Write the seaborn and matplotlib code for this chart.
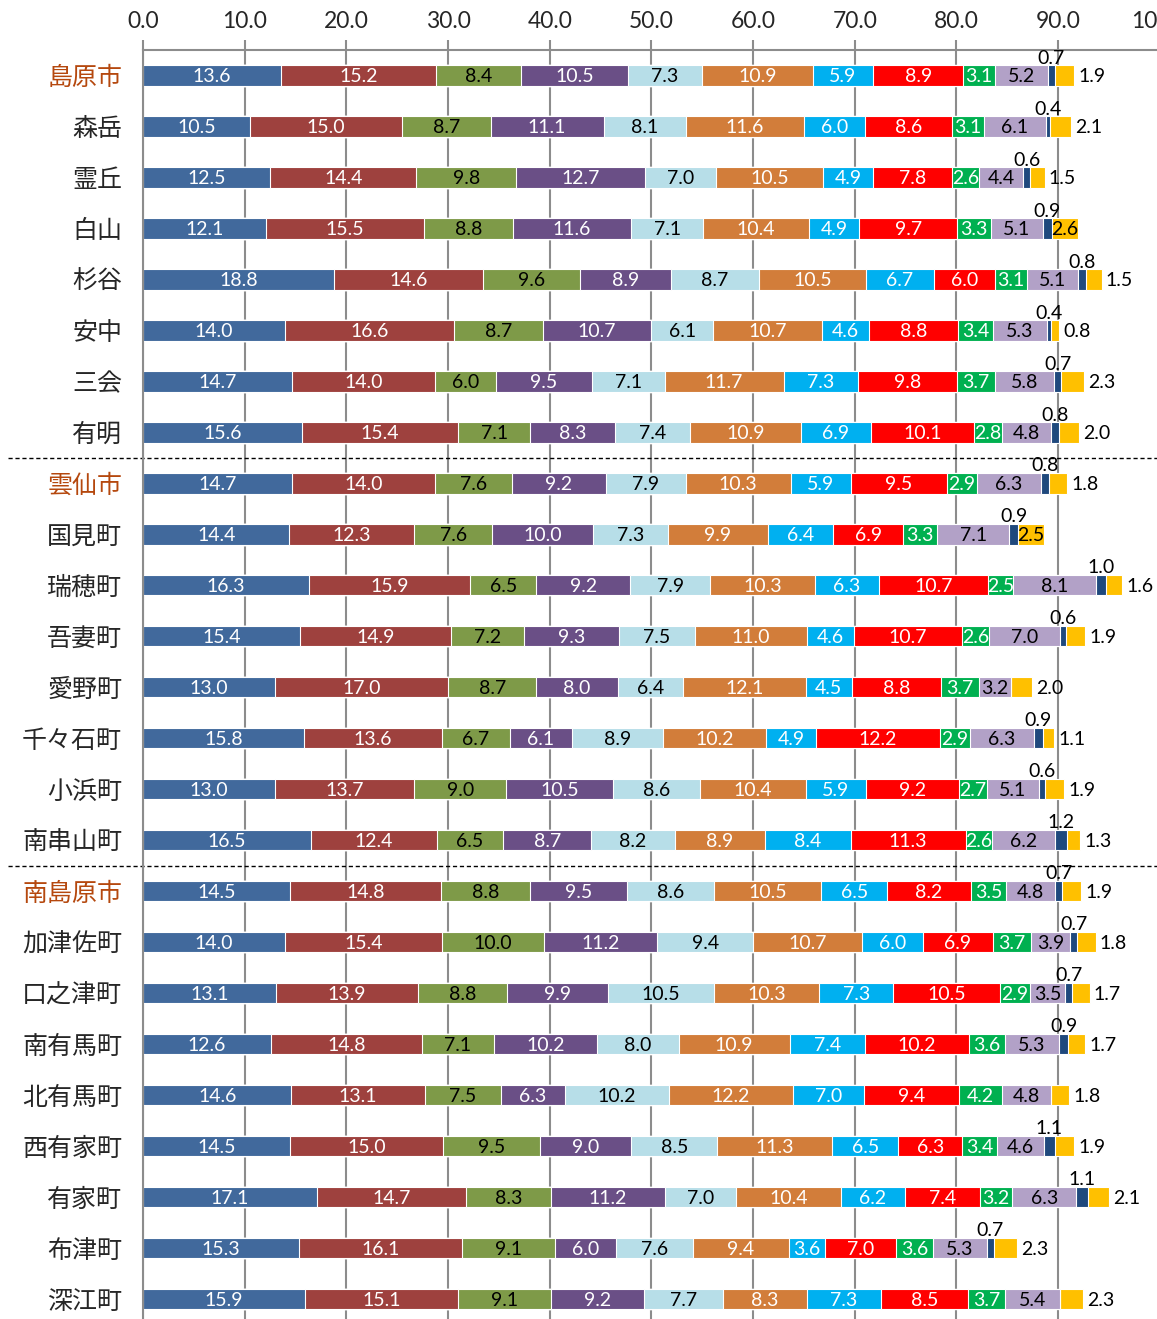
import numpy as np
import pandas as pd
import matplotlib.pyplot as plt
import seaborn as sns

# 地区名（上から順）
names = ['島原市', '森岳', '霊丘', '白山', '杉谷', '安中', '三会', '有明',
         '雲仙市', '国見町', '瑞穂町', '吾妻町', '愛野町', '千々石町', '小浜町', '南串山町',
         '南島原市', '加津佐町', '口之津町', '南有馬町', '北有馬町', '西有家町', '有家町', '布津町', '深江町']
cities = ['島原市', '雲仙市', '南島原市']

# 各系列の値（%）
s01 = [13.6, 10.5, 12.5, 12.1, 18.8, 14.0, 14.7, 15.6, 14.7, 14.4, 16.3, 15.4, 13.0, 15.8, 13.0, 16.5, 14.5, 14.0, 13.1, 12.6, 14.6, 14.5, 17.1, 15.3, 15.9]
s02 = [15.2, 15.0, 14.4, 15.5, 14.6, 16.6, 14.0, 15.4, 14.0, 12.3, 15.9, 14.9, 17.0, 13.6, 13.7, 12.4, 14.8, 15.4, 13.9, 14.8, 13.1, 15.0, 14.7, 16.1, 15.1]
s03 = [8.4, 8.7, 9.8, 8.8, 9.6, 8.7, 6.0, 7.1, 7.6, 7.6, 6.5, 7.2, 8.7, 6.7, 9.0, 6.5, 8.8, 10.0, 8.8, 7.1, 7.5, 9.5, 8.3, 9.1, 9.1]
s04 = [10.5, 11.1, 12.7, 11.6, 8.9, 10.7, 9.5, 8.3, 9.2, 10.0, 9.2, 9.3, 8.0, 6.1, 10.5, 8.7, 9.5, 11.2, 9.9, 10.2, 6.3, 9.0, 11.2, 6.0, 9.2]
s05 = [7.3, 8.1, 7.0, 7.1, 8.7, 6.1, 7.1, 7.4, 7.9, 7.3, 7.9, 7.5, 6.4, 8.9, 8.6, 8.2, 8.6, 9.4, 10.5, 8.0, 10.2, 8.5, 7.0, 7.6, 7.7]
s06 = [10.9, 11.6, 10.5, 10.4, 10.5, 10.7, 11.7, 10.9, 10.3, 9.9, 10.3, 11.0, 12.1, 10.2, 10.4, 8.9, 10.5, 10.7, 10.3, 10.9, 12.2, 11.3, 10.4, 9.4, 8.3]
s07 = [5.9, 6.0, 4.9, 4.9, 6.7, 4.6, 7.3, 6.9, 5.9, 6.4, 6.3, 4.6, 4.5, 4.9, 5.9, 8.4, 6.5, 6.0, 7.3, 7.4, 7.0, 6.5, 6.2, 3.6, 7.3]
s08 = [8.9, 8.6, 7.8, 9.7, 6.0, 8.8, 9.8, 10.1, 9.5, 6.9, 10.7, 10.7, 8.8, 12.2, 9.2, 11.3, 8.2, 6.9, 10.5, 10.2, 9.4, 6.3, 7.4, 7.0, 8.5]
s09 = [3.1, 3.1, 2.6, 3.3, 3.1, 3.4, 3.7, 2.8, 2.9, 3.3, 2.5, 2.6, 3.7, 2.9, 2.7, 2.6, 3.5, 3.7, 2.9, 3.6, 4.2, 3.4, 3.2, 3.6, 3.7]
s10 = [5.2, 6.1, 4.4, 5.1, 5.1, 5.3, 5.8, 4.8, 6.3, 7.1, 8.1, 7.0, 3.2, 6.3, 5.1, 6.2, 4.8, 3.9, 3.5, 5.3, 4.8, 4.6, 6.3, 5.3, 5.4]
s11 = [0.7, 0.4, 0.6, 0.9, 0.8, 0.4, 0.7, 0.8, 0.8, 0.9, 1.0, 0.6, 0.0, 0.9, 0.6, 1.2, 0.7, 0.7, 0.7, 0.9, 0.0, 1.1, 1.1, 0.7, 0.0]
s12 = [1.9, 2.1, 1.5, 2.6, 1.5, 0.8, 2.3, 2.0, 1.8, 2.5, 1.6, 1.9, 2.0, 1.1, 1.9, 1.3, 1.9, 1.8, 1.7, 1.7, 1.8, 1.9, 2.1, 2.3, 2.3]

colors = ['#41699c', '#9e413e', '#7e9a48', '#6a4f86', '#b7dee8', '#d27d3a',
          '#00b0f0', '#ff0000', '#00b050', '#b2a1c7', '#1f497d', '#ffc000']
txtcol = ['white', 'white', 'black', 'white', 'black', 'white',
          'white', 'white', 'white', 'black', 'black', 'black']

sns.set_style("white")
plt.rcParams['font.family'] = ['Lato', 'Noto Sans CJK JP', 'DejaVu Sans']

values = np.array([s01, s02, s03, s04, s05, s06, s07, s08, s09, s10, s11, s12]).T
cum = values.cumsum(axis=1)

fig = plt.figure(figsize=(11.57, 13.19), dpi=100)
ax = fig.add_axes([143 / 1157, -5.5 / 1319, 1016.7 / 1157, 1274.5 / 1319])

# 累積値を後ろの系列から重ねて積み上げ棒にする
for j in reversed(range(12)):
    df = pd.DataFrame({'地区': names, '割合': cum[:, j]})
    sns.barplot(data=df, y='地区', x='割合', order=names, orient='h',
                color=colors[j], saturation=1, width=0.4, errorbar=None,
                edgecolor='white', linewidth=0.8, ax=ax)

# データラベル
for i in range(len(names)):
    for j in range(12):
        v = values[i, j]
        if v <= 0:
            continue
        xc = cum[i, j] - v / 2
        if j == 10:
            ax.text(xc, i - 0.34, f'{v:.1f}', ha='center', va='center', fontsize=14, color='black')
        elif j == 11 and v < 2.5:
            ax.text(cum[i, j] + 0.4, i + 0.02, f'{v:.1f}', ha='left', va='center', fontsize=14, color='black')
        else:
            ax.text(xc, i + 0.02, f'{v:.1f}', ha='center', va='center', fontsize=14, color=txtcol[j])

ax.set_xlim(0, 100)
ax.set_ylim(24.5, -0.5)
ax.set_xlabel('')
ax.set_ylabel('')

ax.xaxis.tick_top()
ax.set_xticks(np.arange(0, 101, 10))
ax.set_xticklabels([f'{t:.1f}' for t in np.arange(0, 101, 10)])
ax.tick_params(axis='x', length=7, width=1.5, color='#8c8c8c', labelsize=16.5, pad=6)

ax.set_yticks(np.arange(-0.5, 25, 1), minor=True)
ax.tick_params(axis='y', which='major', length=0, labelsize=18, pad=15)
ax.tick_params(axis='y', which='minor', length=7, width=1.5, color='#8c8c8c')
for lab in ax.get_yticklabels():
    if lab.get_text() in cities:
        lab.set_color('#b5480e')

ax.grid(axis='x', color='#8c8c8c', linewidth=1.5)
ax.grid(axis='y', visible=False)
ax.set_axisbelow(True)
for side in ['right', 'bottom']:
    ax.spines[side].set_visible(False)
for side in ['top', 'left']:
    ax.spines[side].set_color('#8c8c8c')
    ax.spines[side].set_linewidth(1.5)

# 市ごとの区切り線
for yb in [7.5, 15.5]:
    ax.axhline(yb, xmin=-0.133, xmax=1, color='black', linewidth=1,
               linestyle=(0, (3, 2)), clip_on=False)

fig.savefig('out.png', dpi=100)
